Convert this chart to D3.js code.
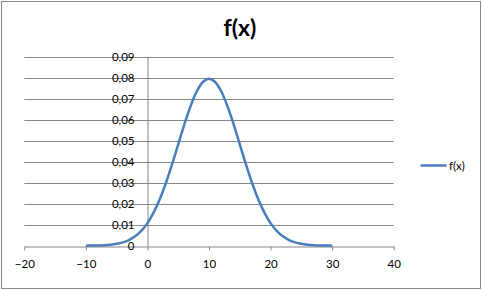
<!DOCTYPE html>
<html lang="en">
<head>
    <meta charset="UTF-8">
    <script src="https://d3js.org/d3.v7.min.js"></script>
    <title>f(x)</title>
    <style>
        body { margin: 0; background: #fff; }
        text { font-family: Lato, "Open Sans", sans-serif; }
    </style>
</head>
<body>
    <svg width="483" height="291"></svg>

    <script>
        // x values and f(x)
        let xs = [-10, -9, -8, -7, -6, -5, -4, -3, -2, -1, 0, 1, 2, 3, 4, 5, 6, 7, 8, 9, 10,
                  11, 12, 13, 14, 15, 16, 17, 18, 19, 20, 21, 22, 23, 24, 25, 26, 27, 28, 29, 30];
        let ys = [0.00003, 0.00006, 0.00012, 0.00025, 0.00048, 0.00089, 0.00158, 0.00272, 0.00448, 0.00709,
                  0.0108, 0.01579, 0.02218, 0.02995, 0.03884, 0.04839, 0.05794, 0.06664, 0.07365, 0.07821,
                  0.07979,
                  0.07821, 0.07365, 0.06664, 0.05794, 0.04839, 0.03884, 0.02995, 0.02218, 0.01579, 0.0108,
                  0.00709, 0.00448, 0.00272, 0.00158, 0.00089, 0.00048, 0.00025, 0.00012, 0.00006, 0.00003];
        let xTicks = [-20, -10, 0, 10, 20, 30, 40];
        let yTicks = [0, 0.01, 0.02, 0.03, 0.04, 0.05, 0.06, 0.07, 0.08, 0.09];
        let seriesName = 'f(x)';

        let data = xs.map((x, i) => ({ x: x, y: ys[i] }));

        let svg = d3.select('svg');

        // outer border
        svg.append('rect')
            .attr('x', 1.5).attr('y', 1.5)
            .attr('width', 479).attr('height', 287)
            .attr('fill', '#fff')
            .attr('stroke', '#868686');

        // title
        svg.append('text')
            .attr('x', 240).attr('y', 36)
            .attr('text-anchor', 'middle')
            .attr('font-size', 23)
            .attr('font-weight', 'bold')
            .text('f(x)');

        let xScale = d3.scaleLinear().domain([-20, 40]).range([24.3, 393.7]);
        let yScale = d3.scaleLinear().domain([0, 0.09]).range([245.7, 57.3]);

        let fmt = (d) => d === 0 ? '0' : d3.format('.2f')(d).replace('.', ',');

        // gridlines
        svg.append('g')
            .selectAll('line')
            .data(yTicks.slice(1))
            .enter()
            .append('line')
            .attr('x1', xScale(-20)).attr('x2', xScale(40))
            .attr('y1', (d) => Math.round(yScale(d)) + 0.5)
            .attr('y2', (d) => Math.round(yScale(d)) + 0.5)
            .attr('stroke', '#868686');

        // x axis at y = 0
        let xAxis = svg.append('g')
            .attr('transform', `translate(0,${Math.round(yScale(0)) + 0.5})`)
            .call(d3.axisBottom(xScale).tickValues(xTicks).tickSize(4).tickSizeOuter(0).tickPadding(9));
        xAxis.select('.domain').attr('stroke', '#868686');
        xAxis.selectAll('.tick line').attr('stroke', '#868686');
        xAxis.selectAll('text').attr('font-size', 11.5).attr('fill', '#000')
            .style('font-family', 'Lato, "Open Sans", sans-serif');

        // y axis at x = 0
        let yAxis = svg.append('g')
            .attr('transform', `translate(${Math.round(xScale(0)) + 0.5},0)`)
            .call(d3.axisLeft(yScale).tickValues(yTicks).tickFormat(fmt).tickSize(0).tickSizeOuter(0).tickPadding(13));
        yAxis.select('.domain').attr('stroke', '#868686');
        yAxis.selectAll('text').attr('font-size', 11.5).attr('fill', '#000')
            .style('font-family', 'Lato, "Open Sans", sans-serif');

        // curve
        let line = d3.line()
            .x((d) => xScale(d.x))
            .y((d) => yScale(d.y))
            .curve(d3.curveCatmullRom);

        svg.append('path')
            .datum(data)
            .attr('d', line)
            .attr('fill', 'none')
            .attr('stroke', '#4A7EBB')
            .attr('stroke-width', 2.5);

        // legend
        svg.append('line')
            .attr('x1', 420.5).attr('x2', 446.5)
            .attr('y1', 165.5).attr('y2', 165.5)
            .attr('stroke', '#4A7EBB')
            .attr('stroke-width', 2.5);
        svg.append('text')
            .attr('x', 449).attr('y', 169.5)
            .attr('font-size', 11.5)
            .text(seriesName);
    </script>
</body>
</html>
